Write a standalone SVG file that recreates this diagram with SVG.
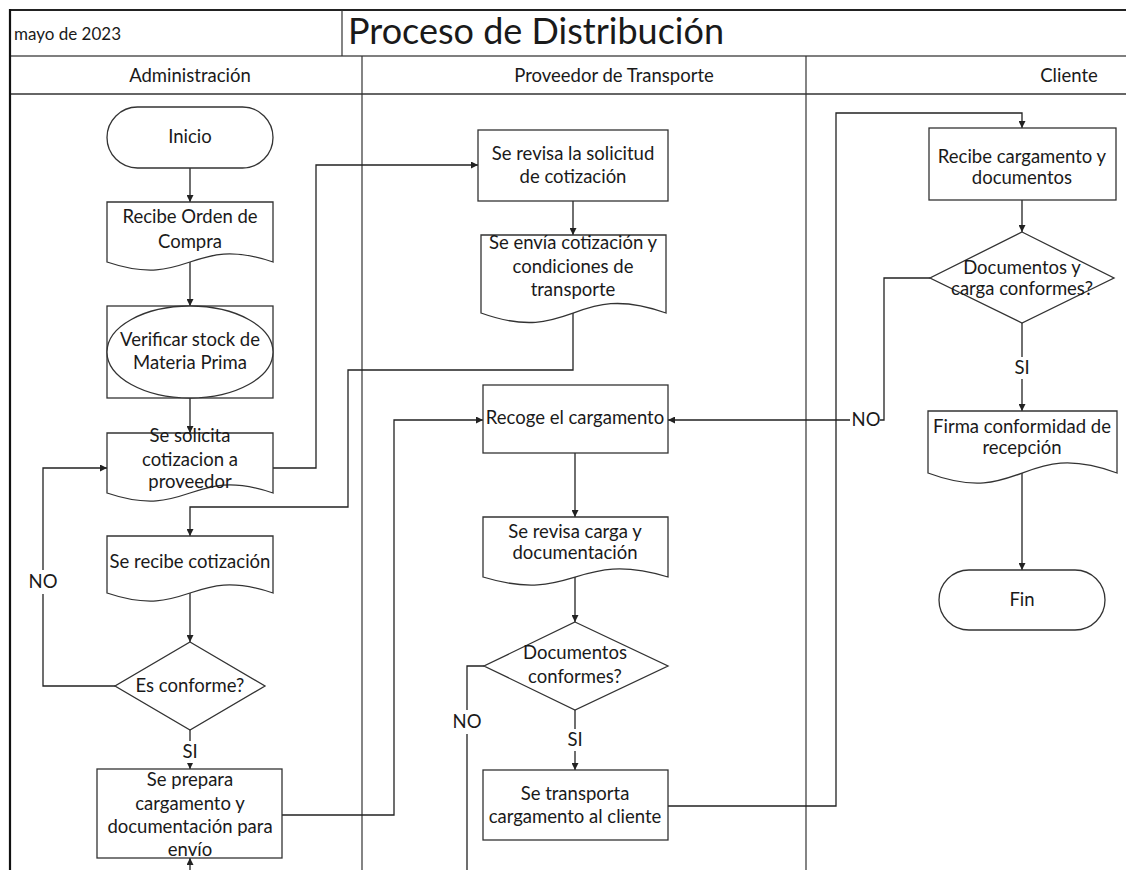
<svg xmlns="http://www.w3.org/2000/svg" width="1126" height="870" viewBox="0 0 1126 870">
  <style>
    text { font-family: Lato, "Open Sans", "Liberation Sans", sans-serif; fill: #1a1a1a; }
    .t { font-size: 18.5px; text-anchor: middle; }
    .lane { font-size: 18.5px; text-anchor: middle; }
    .shape { fill: #ffffff; stroke: #333333; stroke-width: 1.3; }
    .conn { fill: none; stroke: #222222; stroke-width: 1.3; }
    .grid { fill: none; stroke: #333333; stroke-width: 1.2; }
    .lbl { font-size: 18.5px; text-anchor: middle; }
    .bg { fill: #ffffff; stroke: none; }
  </style>
  <defs>
    <marker id="arrow" viewBox="0 0 10 10" refX="10" refY="5" markerWidth="7" markerHeight="7" markerUnits="userSpaceOnUse" orient="auto">
      <path d="M0,0 L10,5 L0,10 Z" fill="#222222"/>
    </marker>
  </defs>

  <rect x="0" y="0" width="1126" height="870" fill="#ffffff"/>

  <!-- header and swimlane frame -->
  <g id="frame">
    <line x1="10" y1="10" x2="1126" y2="10" stroke="#222" stroke-width="2"/>
    <line x1="10" y1="56" x2="1126" y2="56" stroke="#555" stroke-width="1.6"/>
    <line x1="10" y1="94" x2="1126" y2="94" stroke="#666" stroke-width="2"/>
    <line x1="10" y1="9" x2="10" y2="870" stroke="#111" stroke-width="2.2"/>
    <line x1="342" y1="10" x2="342" y2="56" class="grid"/>
    <line x1="362" y1="56" x2="362" y2="870" class="grid"/>
    <line x1="806" y1="56" x2="806" y2="870" class="grid"/>
    <text x="14" y="40" style="font-size:17px">mayo de 2023</text>
    <text x="348" y="44" style="font-size:36px">Proceso de Distribución</text>
    <text x="190" y="82" class="lane">Administración</text>
    <text x="614" y="82" class="lane">Proveedor de Transporte</text>
    <text x="1069" y="82" class="lane">Cliente</text>
  </g>

  <!-- connectors -->
  <g id="connectors">
    <path class="conn" d="M190,168 V202" marker-end="url(#arrow)"/>
    <path class="conn" d="M190,262 V306" marker-end="url(#arrow)"/>
    <path class="conn" d="M190,398 V433" marker-end="url(#arrow)"/>
    <path class="conn" d="M273,468 H316 V165 H478" marker-end="url(#arrow)"/>
    <path class="conn" d="M573,201 V235" marker-end="url(#arrow)"/>
    <path class="conn" d="M573,313 V370 H348 V507 H190 V536" marker-end="url(#arrow)"/>
    <path class="conn" d="M190,593 V642" marker-end="url(#arrow)"/>
    <path class="conn" d="M115,686 H43 V468 H107" marker-end="url(#arrow)"/>
    <path class="conn" d="M190,730 V769" marker-end="url(#arrow)"/>
    <path class="conn" d="M190,872 V858" marker-end="url(#arrow)"/>
    <path class="conn" d="M282,815 H394 V420 H483" marker-end="url(#arrow)"/>
    <path class="conn" d="M575,453 V517" marker-end="url(#arrow)"/>
    <path class="conn" d="M575,577 V622" marker-end="url(#arrow)"/>
    <path class="conn" d="M484,666 H467 V872"/>
    <path class="conn" d="M575,710 V770" marker-end="url(#arrow)"/>
    <path class="conn" d="M668,806 H836 V113 H1022 V128" marker-end="url(#arrow)"/>
    <path class="conn" d="M1022,200 V232" marker-end="url(#arrow)"/>
    <path class="conn" d="M930,278 H884 V420 H668" marker-end="url(#arrow)"/>
    <path class="conn" d="M1022,323 V411" marker-end="url(#arrow)"/>
    <path class="conn" d="M1022,473 V570" marker-end="url(#arrow)"/>

    <!-- branch labels -->
    <rect class="bg" x="30" y="570" width="26" height="24"/>
    <text class="lbl" x="43" y="588">NO</text>
    <rect class="bg" x="180" y="741" width="20" height="22"/>
    <text class="lbl" x="190" y="758">SI</text>
    <rect class="bg" x="454" y="710" width="26" height="24"/>
    <text class="lbl" x="467" y="728">NO</text>
    <rect class="bg" x="565" y="729" width="20" height="22"/>
    <text class="lbl" x="575" y="746">SI</text>
    <rect class="bg" x="850" y="409" width="30" height="22"/>
    <text class="lbl" x="866" y="426">NO</text>
    <rect class="bg" x="1012" y="357" width="20" height="22"/>
    <text class="lbl" x="1022" y="374">SI</text>
  </g>

  <!-- Administración lane -->
  <g id="n-inicio">
    <rect class="shape" x="107" y="107" width="166" height="61" rx="30.5" ry="30.5"/>
    <text class="t" x="190" y="143">Inicio</text>
  </g>
  <g id="n-recibe-orden">
    <path class="shape" d="M107,202 H273 V262 C190,234 190,290 107,262 Z"/>
    <text class="t" x="190" y="223">Recibe Orden de</text>
    <text class="t" x="190" y="248">Compra</text>
  </g>
  <g id="n-verificar">
    <rect class="shape" x="107" y="306" width="166" height="92"/>
    <ellipse class="shape" cx="190" cy="352" rx="83" ry="46"/>
    <text class="t" x="190" y="346">Verificar stock de</text>
    <text class="t" x="190" y="369">Materia Prima</text>
  </g>
  <g id="n-solicita">
    <path class="shape" d="M107,433 H273 V493 C190,465 190,521 107,493 Z"/>
    <text class="t" x="190" y="442">Se solicita</text>
    <text class="t" x="190" y="466">cotizacion a</text>
    <text class="t" x="190" y="488">proveedor</text>
  </g>
  <g id="n-recibe-cotizacion">
    <path class="shape" d="M107,536 H273 V593 C190,565 190,621 107,593 Z"/>
    <text class="t" x="190" y="568">Se recibe cotización</text>
  </g>
  <g id="n-es-conforme">
    <path class="shape" d="M190,642 L265,686 L190,730 L115,686 Z"/>
    <text class="t" x="190" y="692">Es conforme?</text>
  </g>
  <g id="n-prepara">
    <rect class="shape" x="97" y="769" width="185" height="89"/>
    <text class="t" x="190" y="786">Se prepara</text>
    <text class="t" x="190" y="810">cargamento y</text>
    <text class="t" x="190" y="833">documentación para</text>
    <text class="t" x="190" y="856">envío</text>
  </g>

  <!-- Proveedor de Transporte lane -->
  <g id="n-revisa-solicitud">
    <rect class="shape" x="478" y="130" width="190" height="71"/>
    <text class="t" x="573" y="160">Se revisa la solicitud</text>
    <text class="t" x="573" y="183">de cotización</text>
  </g>
  <g id="n-envia-cotizacion">
    <path class="shape" d="M481,235 H666 V313 C573,280 573,346 481,313 Z"/>
    <text class="t" x="573" y="249">Se envía cotización y</text>
    <text class="t" x="573" y="273">condiciones de</text>
    <text class="t" x="573" y="296">transporte</text>
  </g>
  <g id="n-recoge">
    <rect class="shape" x="483" y="385" width="185" height="68"/>
    <text class="t" x="575" y="424">Recoge el cargamento</text>
  </g>
  <g id="n-revisa-carga">
    <path class="shape" d="M483,517 H668 V577 C575,549 575,605 483,577 Z"/>
    <text class="t" x="575" y="538">Se revisa carga y</text>
    <text class="t" x="575" y="559">documentación</text>
  </g>
  <g id="n-docs-conformes">
    <path class="shape" d="M575,622 L668,666 L575,710 L484,666 Z"/>
    <text class="t" x="575" y="659">Documentos</text>
    <text class="t" x="575" y="683">conformes?</text>
  </g>
  <g id="n-transporta">
    <rect class="shape" x="483" y="770" width="185" height="70"/>
    <text class="t" x="575" y="800">Se transporta</text>
    <text class="t" x="575" y="823">cargamento al cliente</text>
  </g>

  <!-- Cliente lane -->
  <g id="n-recibe-cargamento">
    <rect class="shape" x="929" y="128" width="187" height="72"/>
    <text class="t" x="1022" y="163">Recibe cargamento y</text>
    <text class="t" x="1022" y="184">documentos</text>
  </g>
  <g id="n-docs-carga">
    <path class="shape" d="M1022,232 L1114,278 L1022,323 L930,278 Z"/>
    <text class="t" x="1022" y="274">Documentos y</text>
    <text class="t" x="1022" y="295">carga conformes?</text>
  </g>
  <g id="n-firma">
    <path class="shape" d="M928,411 H1117 V473 C1022,438 1022,508 928,473 Z"/>
    <text class="t" x="1022" y="433">Firma conformidad de</text>
    <text class="t" x="1022" y="454">recepción</text>
  </g>
  <g id="n-fin">
    <rect class="shape" x="939" y="570" width="166" height="60" rx="30" ry="30"/>
    <text class="t" x="1022" y="606">Fin</text>
  </g>
</svg>
